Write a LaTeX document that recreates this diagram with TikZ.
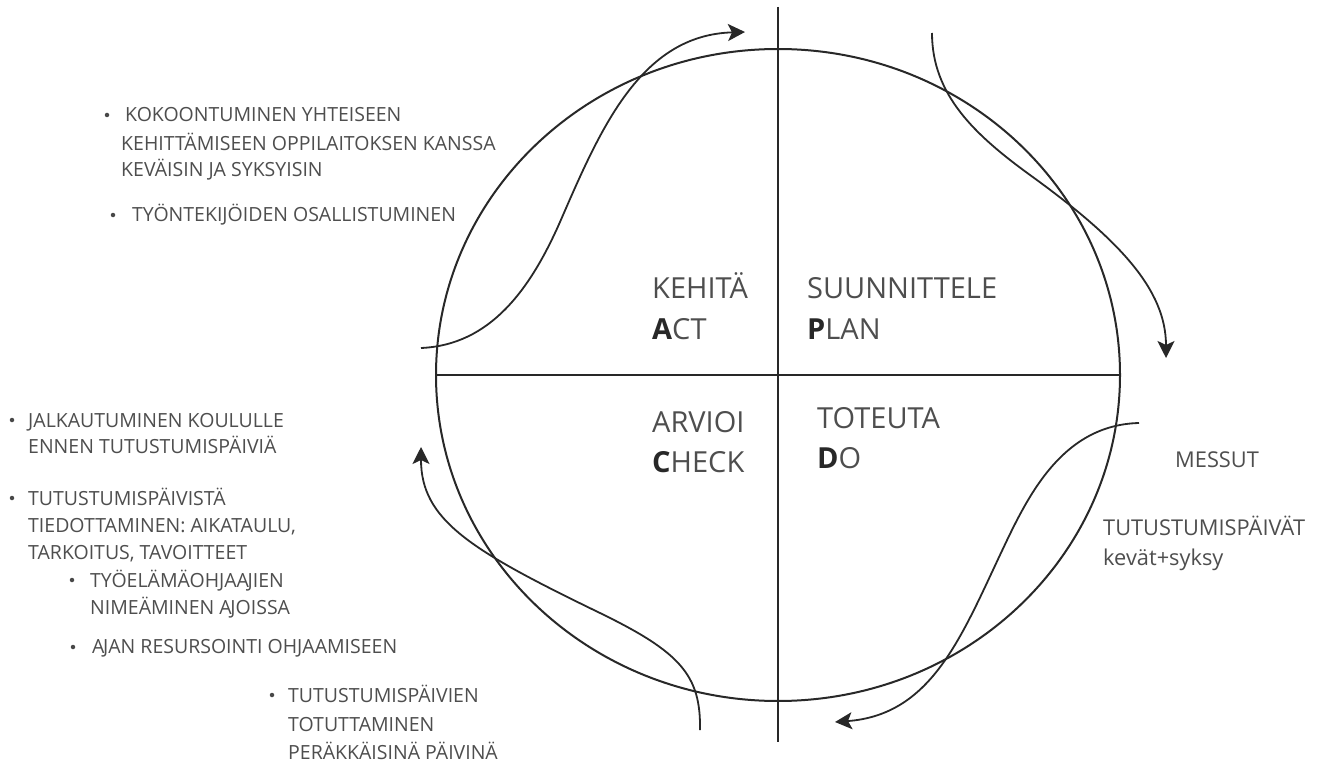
\documentclass[tikz,border=0pt]{standalone}
\usepackage{fontspec}
\setmainfont{Open Sans}
\usetikzlibrary{arrows.meta}
\definecolor{ink}{RGB}{40,40,40}
\definecolor{txt}{RGB}{78,78,78}
\tikzset{
  big/.style={font=\fontsize{29}{34}\selectfont, text=txt, anchor=base west, inner sep=0pt},
  small/.style={font=\fontsize{19.5}{24}\selectfont, text=txt, anchor=base west, inner sep=0pt},
  rsmall/.style={font=\fontsize{21.8}{25}\selectfont, text=txt, anchor=base west, inner sep=0pt},
  bul/.style={circle, fill=ink!85, minimum size=4.5pt, inner sep=0pt},
  frame/.style={line width=2pt, draw=ink},
  flow/.style={line width=1.8pt, draw=ink, -{Stealth[length=17pt,width=17pt,inset=4pt]}}
}
\newcommand{\bl}[1]{{\color{ink}\textbf{#1}}}
\newcommand{\AJ}{A\kern-0.07em J}
\begin{document}
\begin{tikzpicture}[x=1pt,y=-1pt]
\useasboundingbox (0,0) rectangle (1323,765);
\fill[white] (0,0) rectangle (1323,765);

% frame: circle and axes
\coordinate (vtop) at (778,7);
\coordinate (vbot) at (778,742);
\coordinate (hl) at (437,375);
\coordinate (hr) at (1120,375);
\draw[frame] (778,375) ellipse [x radius=342pt, y radius=326pt];
\draw[frame] (vtop) -- (vbot);
\draw[frame] (hl) -- (hr);

% quadrant labels
\node[big] (keh) at (652,298) {KEHITÄ};
\node[big] (act) at (652,339) {\bl{A}CT};
\node[big] (suu) at (807,298) {SUUNNITTELE};
\node[big] (plan) at (807,339) {\bl{P}LAN};
\node[big] (arv) at (652,432) {ARVIOI};
\node[big] (chk) at (652,472) {\bl{C}HECK};
\node[big] (tot) at (817,428) {TOTEUTA};
\node[big] (do) at (817,468) {\bl{D}O};

% flow arrows
\coordinate (a0) at (421,348); \coordinate (a1) at (560,222); \coordinate (a2) at (745,32);
\draw[flow] (a0) .. controls (490,345) and (530,290) .. (a1) .. controls (600,130) and (640,35) .. (a2);

\coordinate (p0) at (932,33); \coordinate (p1) at (1030,175); \coordinate (p2) at (1166,358);
\draw[flow] (p0) .. controls (932,95) and (975,135) .. (p1) .. controls (1120,240) and (1166,290) .. (p2);

\coordinate (d0) at (1139,423); \coordinate (d1) at (1000,555); \coordinate (d2) at (835,722);
\draw[flow] (d0) .. controls (1060,425) and (1026,500) .. (d1) .. controls (960,640) and (930,715) .. (d2);

\coordinate (c0) at (700,730); \coordinate (c1) at (600,613); \coordinate (c2) at (421,447);
\draw[flow] (c0) .. controls (701,675) and (680,652) .. (c1) .. controls (470,550) and (421,520) .. (c2);

% top-left notes
\node[bul] (b1) at (107,115) {};
\node[small] (t1a) at (125,122) {KOKOONTUMINEN YHTEISEEN};
\node[small] (t1b) at (121,150) {KEHITTÄMISEEN OPPILAITOKSEN KANSSA};
\node[small] (t1c) at (121,177) {KEVÄISIN JA SYKSYISIN};
\node[bul] (b2) at (113,215) {};
\node[small] (t2) at (132,222) {TYÖNTEKIJÖIDEN OSALLISTUMINEN};

% left notes
\node[bul] (b3) at (12,420) {};
\node[small] (t3a) at (28,427) {JALKAUTUMINEN KOULULLE};
\node[small] (t3b) at (28,453) {ENNEN TUTUSTUMISPÄIVIÄ};
\node[bul] (b4) at (12,498) {};
\node[small] (t4a) at (28,505) {TUTUSTUMISPÄIVISTÄ};
\node[small] (t4b) at (28,532) {TIEDOTTAMINEN: AIKATAULU,};
\node[small] (t4c) at (28,559) {TARKOITUS, TAVOITTEET};
\node[bul] (b5) at (72,580) {};
\node[small] (t5a) at (90,587) {TYÖELÄMÄOHJA\AJ IEN};
\node[small] (t5b) at (90,614) {NIMEÄMINEN \AJ OISSA};
\node[bul] (b6) at (73,647) {};
\node[small] (t6) at (92,653) {\AJ AN RESURSOINTI OHJAAMISEEN};

% bottom notes
\node[bul] (b7) at (272,695) {};
\node[small] (t7a) at (288,702) {TUTUSTUMISPÄIVIEN};
\node[small] (t7b) at (288,731) {TOTUTTAMINEN};
\node[small] (t7c) at (288,759) {PERÄKKÄISINÄ PÄIVINÄ};

% right notes
\node[rsmall] (m) at (1175,467) {MESSUT};
\node[rsmall] (tp) at (1103,535) {TUTUSTUMISPÄIVÄT};
\node[rsmall] (ks) at (1103,565) {kevät+syksy};
\end{tikzpicture}
\end{document}
